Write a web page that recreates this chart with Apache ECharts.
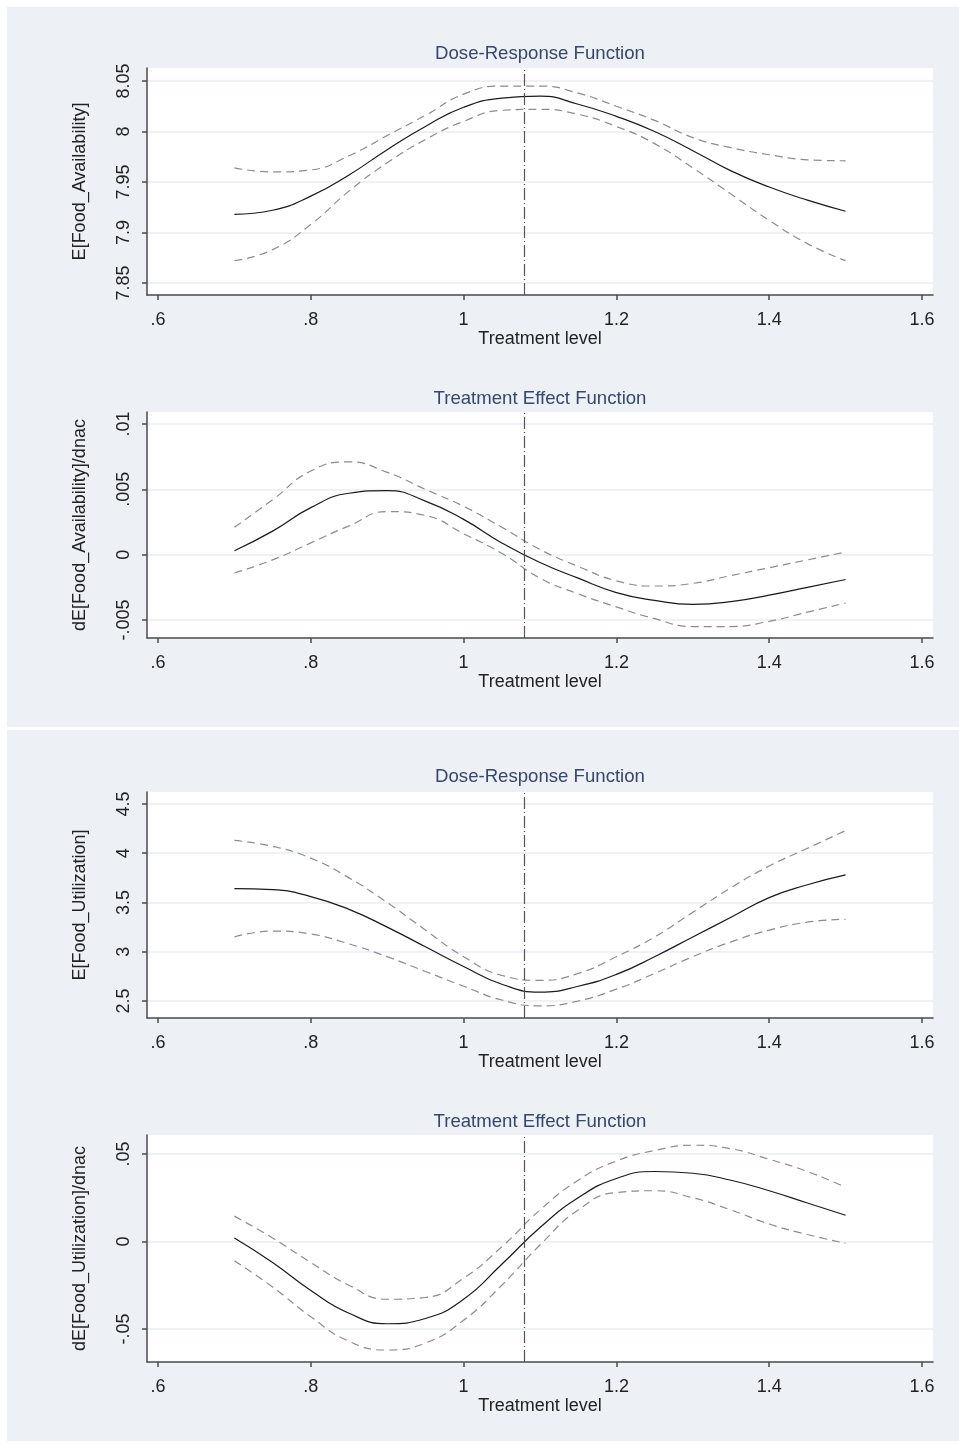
<!DOCTYPE html>
<html>
<head>
<meta charset="utf-8">
<script src="https://cdn.jsdelivr.net/npm/echarts@6/dist/echarts.min.js"></script>
<style>
  html, body { margin: 0; padding: 0; background: #ffffff; }
  .bg { position: absolute; background: #edf1f6; }
  #chart { position: absolute; left: 0; top: 0; width: 959px; height: 1446px; }
</style>
</head>
<body>
<div class="bg" style="left:7px;top:7px;width:952px;height:720px;"></div>
<div class="bg" style="left:7px;top:730px;width:952px;height:711px;"></div>
<div id="chart"></div>
<script>
// ---- Data ----
const treatment = [0.70, 0.75, 0.80, 0.85, 0.90, 0.95, 1.00, 1.05, 1.10, 1.15, 1.20, 1.25, 1.30, 1.35, 1.40, 1.45, 1.50];

const faMean  = [7.918, 7.922, 7.936, 7.957, 7.982, 8.005, 8.024, 8.033, 8.035, 8.027, 8.015, 8.000, 7.981, 7.961, 7.945, 7.932, 7.921];
const faUpper = [7.964, 7.960, 7.962, 7.976, 7.996, 8.016, 8.037, 8.045, 8.045, 8.038, 8.025, 8.011, 7.994, 7.984, 7.977, 7.972, 7.971];
const faLower = [7.872, 7.883, 7.908, 7.941, 7.969, 7.992, 8.010, 8.021, 8.022, 8.017, 8.005, 7.988, 7.964, 7.938, 7.912, 7.889, 7.872];

const faTeMean  = [0.0003, 0.0018, 0.0036, 0.0047, 0.0049, 0.0041, 0.0027, 0.0009, -0.0006, -0.0018, -0.0029, -0.0035, -0.0038, -0.0036, -0.0031, -0.0025, -0.0019];
const faTeUpper = [0.0021, 0.0042, 0.0064, 0.0071, 0.0063, 0.0050, 0.0037, 0.0021, 0.0004, -0.0009, -0.0020, -0.0024, -0.0022, -0.0016, -0.0010, -0.0004, 0.0002];
const faTeLower = [-0.0014, -0.0004, 0.0009, 0.0022, 0.0033, 0.0030, 0.0016, 0.0001, -0.0018, -0.0030, -0.0040, -0.0049, -0.0055, -0.0055, -0.0051, -0.0044, -0.0037];

const fuMean  = [3.64, 3.63, 3.56, 3.43, 3.25, 3.05, 2.85, 2.67, 2.59, 2.65, 2.77, 2.95, 3.15, 3.35, 3.55, 3.68, 3.78];
const fuUpper = [4.13, 4.07, 3.95, 3.75, 3.50, 3.22, 2.95, 2.76, 2.71, 2.78, 2.95, 3.15, 3.40, 3.65, 3.87, 4.05, 4.23];
const fuLower = [3.15, 3.21, 3.18, 3.08, 2.95, 2.80, 2.65, 2.51, 2.45, 2.50, 2.62, 2.78, 2.95, 3.10, 3.22, 3.30, 3.33];

const fuTeMean  = [0.002, -0.012, -0.028, -0.041, -0.047, -0.044, -0.033, -0.013, 0.008, 0.025, 0.036, 0.040, 0.039, 0.035, 0.029, 0.022, 0.015];
const fuTeUpper = [0.0145, 0.002, -0.012, -0.025, -0.033, -0.032, -0.021, -0.003, 0.018, 0.035, 0.046, 0.052, 0.055, 0.053, 0.047, 0.040, 0.031];
const fuTeLower = [-0.011, -0.026, -0.043, -0.057, -0.062, -0.058, -0.045, -0.025, -0.002, 0.018, 0.028, 0.029, 0.025, 0.018, 0.010, 0.004, -0.001];

const cutoff = 1.08;

const xTicks = [0.6, 0.8, 1.0, 1.2, 1.4, 1.6];
const faTicks = [7.85, 7.9, 7.95, 8.0, 8.05];
const faTeTicks = [-0.005, 0, 0.005, 0.01];
const fuTicks = [2.5, 3, 3.5, 4, 4.5];
const fuTeTicks = [-0.05, 0, 0.05];

const titles = ['Dose-Response Function', 'Treatment Effect Function', 'Dose-Response Function', 'Treatment Effect Function'];
const yNames = ['E[Food_Availability]', 'dE[Food_Availability]/dnac', 'E[Food_Utilization]', 'dE[Food_Utilization]/dnac'];
const xName = 'Treatment level';

// ---- Layout / style ----
const FONT = '"Liberation Sans", Arial, sans-serif';
const panels = [
  { top: 68,   height: 227, ymin: 7.8381, ymax: 8.0629, ticks: faTicks,   mean: faMean,   up: faUpper,   lo: faLower,   titleY: 54 },
  { top: 412,  height: 226, ymin: -0.006378, ymax: 0.010918, ticks: faTeTicks, mean: faTeMean, up: faTeUpper, lo: faTeLower, titleY: 399 },
  { top: 792,  height: 226, ymin: 2.3274, ymax: 4.6218, ticks: fuTicks,   mean: fuMean,   up: fuUpper,   lo: fuLower,   titleY: 777 },
  { top: 1135, height: 227, ymin: -0.06886, ymax: 0.06086, ticks: fuTeTicks, mean: fuTeMean, up: fuTeUpper, lo: fuTeLower, titleY: 1122 }
];

function stataFmt(v) {
  let s = String(+Number(v).toFixed(4));
  s = s.replace(/^0\./, '.').replace(/^-0\./, '-.');
  return s;
}
function pairs(ys) { return treatment.map((x, i) => [x, ys[i]]); }

const grid = [], xAxis = [], yAxis = [], series = [], graphic = [];
panels.forEach((p, i) => {
  grid.push({ left: 147, width: 786, top: p.top, height: p.height, show: true, backgroundColor: '#ffffff', borderWidth: 0 });
  graphic.push({ type: 'text', x: 540, y: p.titleY, silent: true,
    style: { text: titles[i], textAlign: 'center', textVerticalAlign: 'middle',
      fontFamily: FONT, fontSize: 18.6, fill: '#34476d' } });
  xAxis.push({
    type: 'value', gridIndex: i, min: 0.5856, max: 1.6144,
    name: xName, nameLocation: 'middle', nameGap: 30,
    nameTextStyle: { fontFamily: FONT, fontSize: 18, color: '#222' },
    axisLine: { show: true, onZero: false, lineStyle: { color: '#4a4a4a', width: 1.5 } },
    axisTick: { show: true, length: 5, customValues: xTicks, lineStyle: { color: '#4a4a4a', width: 1.5 } },
    axisLabel: { customValues: xTicks, formatter: stataFmt, margin: 16, fontFamily: FONT, fontSize: 18, color: '#222' },
    splitLine: { show: false }
  });
  yAxis.push({
    type: 'value', gridIndex: i, min: p.ymin, max: p.ymax,
    name: yNames[i], nameLocation: 'middle', nameGap: 58, nameRotate: 90,
    nameTextStyle: { fontFamily: FONT, fontSize: 18, color: '#222' },
    axisLine: { show: true, onZero: false, lineStyle: { color: '#4a4a4a', width: 1.5 } },
    axisTick: { show: true, length: 5, customValues: p.ticks, lineStyle: { color: '#4a4a4a', width: 1.5 } },
    axisLabel: { customValues: p.ticks, formatter: stataFmt, rotate: 90, margin: 14, fontFamily: FONT, fontSize: 18, color: '#222' },
    splitLine: { show: true, lineStyle: { color: '#e9eef4', width: 1.5 } }
  });
  const base = { type: 'line', xAxisIndex: i, yAxisIndex: i, showSymbol: false, symbol: 'none', smooth: true, silent: true, animation: false };
  series.push(Object.assign({}, base, { name: 'upper', data: pairs(p.up), lineStyle: { color: '#8c8c8c', width: 1.2, type: [8, 5] } }));
  series.push(Object.assign({}, base, { name: 'lower', data: pairs(p.lo), lineStyle: { color: '#8c8c8c', width: 1.2, type: [8, 5] } }));
  series.push(Object.assign({}, base, { name: 'mean', data: pairs(p.mean), lineStyle: { color: '#1a1a1a', width: 1.2 },
    markLine: { silent: true, symbol: 'none', label: { show: false },
      lineStyle: { color: '#555', width: 1.2, type: [12, 3, 1, 3] },
      data: [{ xAxis: cutoff }] } }));
});

const chart = echarts.init(document.getElementById('chart'), null, { renderer: 'canvas' });
chart.setOption({ backgroundColor: 'transparent', animation: false, graphic, grid, xAxis, yAxis, series });
</script>
</body>
</html>
